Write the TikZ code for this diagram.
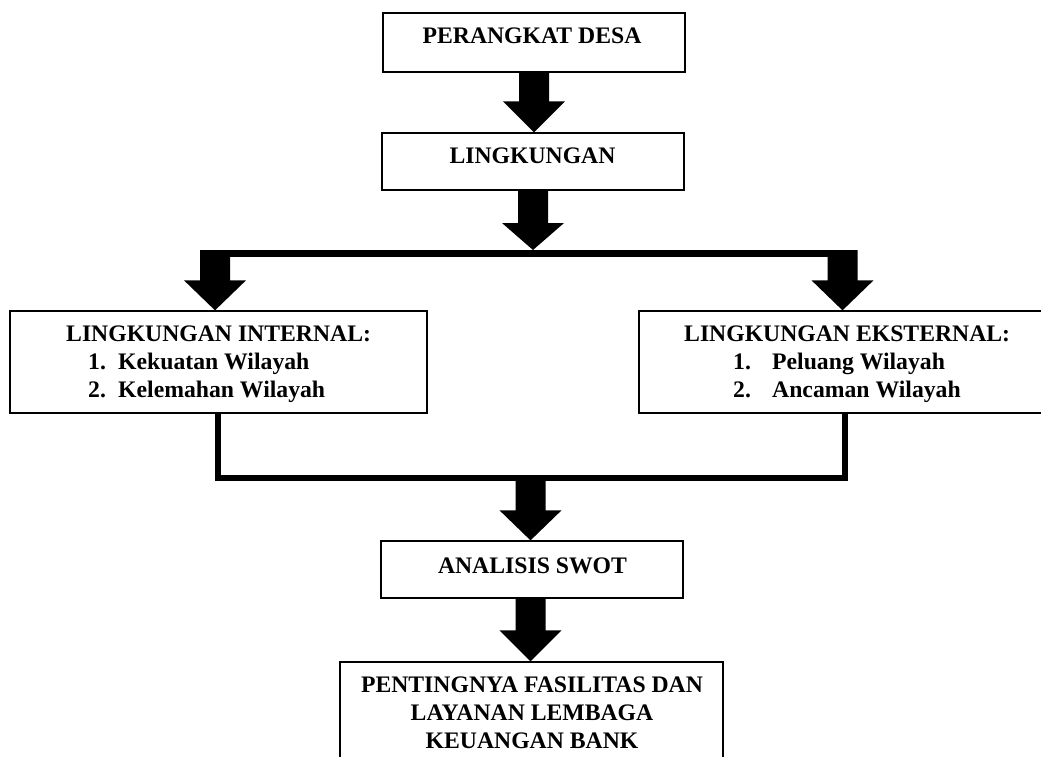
\documentclass[tikz,border=0pt]{standalone}
\usepackage{fontspec}
\setmainfont{Liberation Serif}
\usetikzlibrary{calc}
\begin{document}
\begin{tikzpicture}[x=1pt,y=-1pt,
  box/.style={draw=black, line width=1.3pt, fill=white, rectangle, inner sep=0pt},
  txt/.style={inner sep=0pt, font=\fontsize{23.7}{28}\selectfont\bfseries},
  link/.style={line width=6.5pt, line cap=butt, line join=miter},
  barrow/.style={fill=black, to path={let \p1=(\tikztostart), \p2=(\tikztotarget) in
    (\x1-15pt,\y1) -- (\x1+15pt,\y1) -- (\x1+15pt,\y2+#1) -- (\x1+31pt,\y2+#1)
    -- (\x1,\y2) -- (\x1-31pt,\y2+#1) -- (\x1-15pt,\y2+#1) -- cycle}},
  barrow/.default=31pt]
\clip (0,0) rectangle (1041,756);
\fill[white] (0,0) rectangle (1041,756);

% boxes
\node[box, minimum width=302pt, minimum height=59pt] (desa) at (534,42.5) {};
\node[box, minimum width=302pt, minimum height=57pt] (lingk) at (533,161.5) {};
\node[box, minimum width=417pt, minimum height=102pt] (intl) at (218.5,362) {};
\node[box, minimum width=421pt, minimum height=102pt] (extl) at (849.5,362) {};
\node[box, minimum width=302pt, minimum height=57pt] (swot) at (532,569.5) {};
\node[box, minimum width=383pt, minimum height=138pt] (final) at (531.5,731) {};

% texts
\node[txt, anchor=base] (desat) at (532,43) {PERANGKAT DESA};
\node[txt, anchor=base] (lingkt) at (532.5,163.3) {LINGKUNGAN};
\node[txt, anchor=base west] (intlh) at (66,341.5) {LINGKUNGAN INTERNAL:};
\node[txt, anchor=base west] (intln1) at (88,369) {1.};
\node[txt, anchor=base west] (intli1) at (118,369) {Kekuatan Wilayah};
\node[txt, anchor=base west] (intln2) at (88,397) {2.};
\node[txt, anchor=base west] (intli2) at (118,397) {Kelemahan Wilayah};
\node[txt, anchor=base west] (extlh) at (684,341.5) {LINGKUNGAN EKSTERNAL:};
\node[txt, anchor=base west] (extln1) at (733,369) {1.};
\node[txt, anchor=base west] (extli1) at (772,369) {Peluang Wilayah};
\node[txt, anchor=base west] (extln2) at (733,397) {2.};
\node[txt, anchor=base west] (extli2) at (772,397) {Ancaman Wilayah};
\node[txt, anchor=base] (swott) at (532.5,573) {ANALISIS SWOT};
\node[txt, anchor=base] (finalt1) at (532,692) {PENTINGNYA FASILITAS DAN};
\node[txt, anchor=base] (finalt2) at (532,720) {LAYANAN LEMBAGA};
\node[txt, anchor=base] (finalt3) at (532,748) {KEUANGAN BANK};

% junction coordinates
\coordinate (top) at (533.5,250);
\coordinate (hl) at (200,253.5);
\coordinate (hr) at (857,253.5);
\coordinate (jL) at (215,250);
\coordinate (jR) at (842.5,250);
\coordinate (bl) at (218,478);
\coordinate (br) at (845,478);
\coordinate (bm) at (530.5,481);

% connectors
\path[barrow=31pt] (desa.south) to (lingk.north);
\path[barrow=27pt] (lingk.south) to (top);
\draw[link, line width=7pt] (hl) -- (hr);
\path[barrow=30pt] (jL) to (jL |- intl.north);
\path[barrow=30pt] (jR) to (jR |- extl.north);
\draw[link] (intl.south -| bl) -- (bl) -- (br) -- (extl.south -| br);
\path[barrow=30pt] (bm) to (bm |- swot.north);
\path[barrow=31pt] (swot.south -| bm) to (bm |- final.north);
\end{tikzpicture}
\end{document}
